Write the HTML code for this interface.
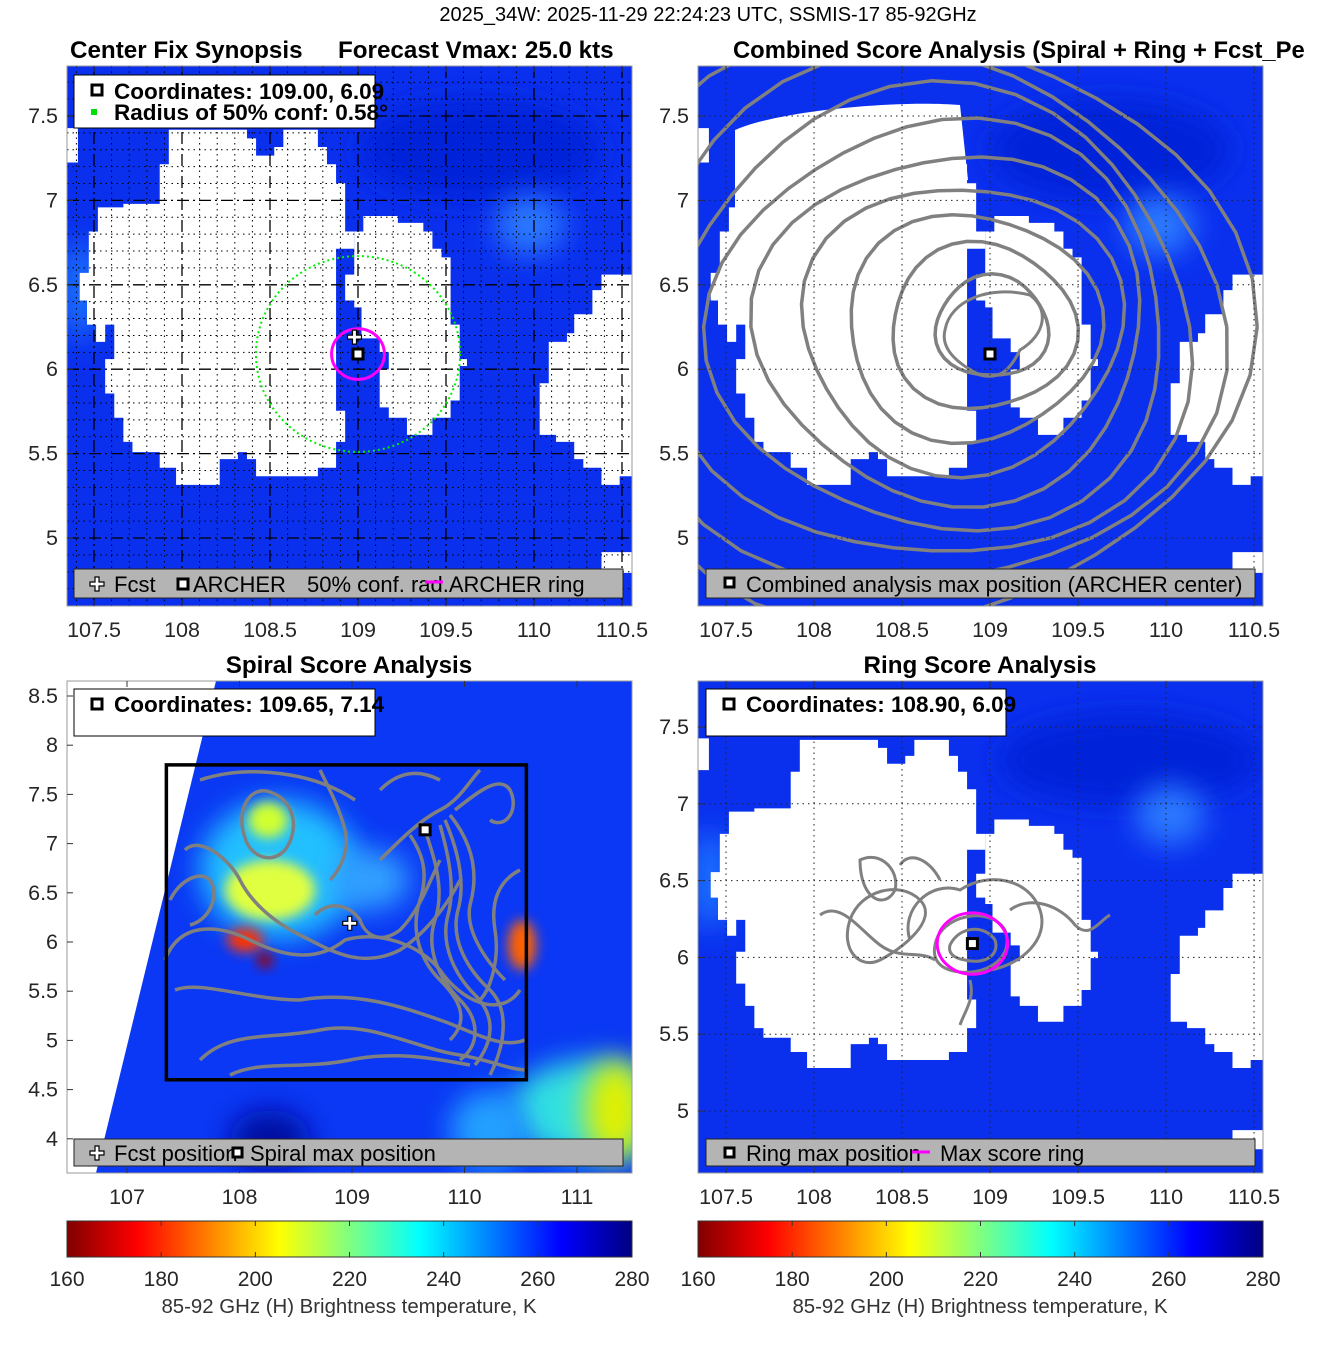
<!DOCTYPE html>
<html><head><meta charset="utf-8"><style>
body{margin:0;background:#fff}
svg text{font-family:"Liberation Sans","DejaVu Sans",sans-serif}
</style></head><body>
<svg id="s" width="1317" height="1350" viewBox="0 0 1317 1350" xmlns="http://www.w3.org/2000/svg">
<defs>
<linearGradient id="jet" x1="0" x2="1" y1="0" y2="0">
<stop offset="0" stop-color="#800000"/><stop offset="0.125" stop-color="#ff0000"/>
<stop offset="0.375" stop-color="#ffff00"/><stop offset="0.5" stop-color="#80ff80"/><stop offset="0.625" stop-color="#00ffff"/>
<stop offset="0.875" stop-color="#0000ff"/><stop offset="1" stop-color="#000080"/>
</linearGradient>
<filter id="bl" x="-50%" y="-50%" width="200%" height="200%"><feGaussianBlur stdDeviation="14"/></filter>
<filter id="bl2" x="-50%" y="-50%" width="200%" height="200%"><feGaussianBlur stdDeviation="6"/></filter>
<clipPath id="c1"><rect x="67" y="66" width="565" height="540"/></clipPath>
<clipPath id="c2"><rect x="698" y="66" width="565" height="540"/></clipPath>
<clipPath id="c3"><rect x="67" y="681" width="565" height="492"/></clipPath>
<clipPath id="c4"><rect x="698" y="681" width="565" height="492"/></clipPath>
<g id="blobs">
<polygon points="280,185 495,185 495,210 520,210 520,260 570,260 570,235 595,235 595,185 690,185 690,235 715,235 715,285 740,285 740,340 765,340 765,480 790,480 790,530 740,530 740,1000 765,1000 765,1090 740,1090 740,1165 690,1165 690,1190 520,1190 520,1140 495,1140 495,1120 470,1120 470,1140 420,1140 420,1215 300,1215 300,1165 255,1165 255,1120 180,1120 180,1090 155,1090 155,1020 130,1020 130,950 105,950 105,850 130,850 130,750 105,750 105,800 80,800 80,750 55,750 55,680 35,680 35,600 60,600 60,480 85,480 85,410 155,410 155,400 255,400 255,285 280,285" fill="#fff"/>
<polygon points="815,435 910,435 910,455 980,455 980,480 1005,480 1005,530 1030,530 1030,555 1055,555 1055,750 1080,750 1080,850 1100,850 1100,870 1080,870 1080,970 1055,970 1055,1020 1005,1020 1005,1070 935,1070 935,1020 885,1020 885,990 860,990 860,880 885,880 885,830 860,830 860,790 810,790 810,700 790,700 790,680 765,680 765,605 790,605 790,480 815,480" fill="#fff"/>
<polygon points="1470,605 1560,605 1560,1190 1520,1190 1520,1215 1470,1215 1470,1165 1420,1165 1420,1140 1395,1140 1395,1090 1345,1090 1345,1070 1300,1070 1300,920 1325,920 1325,800 1375,800 1375,775 1395,775 1395,720 1445,720 1445,650 1470,650" fill="#fff"/>
<polygon points="0,180 30,180 30,280 0,280" fill="#fff"/>
<polygon points="1470,1410 1560,1410 1560,1470 1470,1470" fill="#fff"/>
</g>
</defs>
<text x="708" y="21" font-size="20" text-anchor="middle">2025_34W: 2025-11-29 22:24:23 UTC, SSMIS-17 85-92GHz</text>

<!-- Panel 1 -->
<g clip-path="url(#c1)">
<rect x="67" y="66" width="565" height="540" fill="#0a30ee"/>
<ellipse cx="480" cy="150" rx="120" ry="50" fill="#0522d8" filter="url(#bl)"/>
<ellipse cx="530" cy="225" rx="35" ry="30" fill="#2a78ff" filter="url(#bl)"/>
<ellipse cx="80" cy="290" rx="20" ry="50" fill="#1a70ff" filter="url(#bl)"/>
<use href="#blobs" transform="translate(67,66) scale(0.3636,0.3448)"/>
</g>
<g id="g1grid" clip-path="url(#c1)"></g>
<g id="g1marks" clip-path="url(#c1)"></g>
<rect x="67" y="66" width="565" height="540" fill="none" stroke="#999" stroke-width="1"/>
<text x="70" y="58" font-size="24.2" font-weight="bold">Center Fix Synopsis</text>
<text x="338" y="58" font-size="24.2" font-weight="bold">Forecast Vmax: 25.0 kts</text>
<g>
<rect x="74" y="75" width="301" height="53" fill="#fff" stroke="#000"/>
<rect x="92" y="85" width="10" height="10" fill="#fff" stroke="#000" stroke-width="3"/>
<rect x="91" y="109" width="6" height="6" fill="#00e000"/>
<text x="114" y="99" font-size="22.5" font-weight="bold">Coordinates: 109.00, 6.09</text>
<text x="114" y="120" font-size="22.5" font-weight="bold">Radius of 50% conf: 0.58°</text>
</g>
<g>
<rect x="74" y="569" width="549" height="29" fill="#b4b4b4" stroke="#222"/>
<text x="114" y="592" font-size="22">Fcst</text>
<text x="193" y="592" font-size="22">ARCHER</text>
<text x="307" y="592" font-size="22">50% conf. rad.ARCHER ring</text>
<line x1="425" y1="582" x2="443" y2="582" stroke="#ff00ff" stroke-width="3"/>
</g>

<!-- Panel 2 -->
<g clip-path="url(#c2)">
<rect x="698" y="66" width="565" height="540" fill="#0a30ee"/>
<ellipse cx="1110" cy="150" rx="120" ry="50" fill="#0522d8" filter="url(#bl)"/>
<ellipse cx="1160" cy="225" rx="35" ry="30" fill="#2a78ff" filter="url(#bl)"/>
<use href="#blobs" transform="translate(698,66) scale(0.3636,0.3448)"/>
<path d="M735,130 C780,110 900,100 960,105 L968,180 L900,185 C860,190 800,205 760,220 L735,225Z" fill="#fff"/>
<path d="M945,330 C950,300 990,285 1030,295 C1050,310 1045,335 1020,350 C1010,370 1000,380 980,375 C960,365 940,350 945,330Z" fill="none" stroke="#808080" stroke-width="3"/>
<path id="p2c" fill="none" stroke="#808080" stroke-width="3.5"></path>
</g>
<g id="g2grid" clip-path="url(#c2)"></g>
<g id="g2marks" clip-path="url(#c2)"></g>
<rect x="698" y="66" width="565" height="540" fill="none" stroke="#999"/>
<text x="733" y="58" font-size="23.8" font-weight="bold">Combined Score Analysis (Spiral + Ring + Fcst_Pe</text>
<g>
<rect x="706" y="569" width="549" height="29" fill="#b4b4b4" stroke="#222"/>
<rect x="725" y="578" width="9" height="9" fill="#fff" stroke="#000" stroke-width="3"/>
<text x="746" y="592" font-size="22">Combined analysis max position (ARCHER center)</text>
</g>

<!-- Panel 3 -->
<g clip-path="url(#c3)">
<rect x="67" y="681" width="565" height="492" fill="#0a38f4"/>
<ellipse cx="280" cy="870" rx="80" ry="70" fill="#20c0ff" filter="url(#bl)"/>
<ellipse cx="370" cy="880" rx="40" ry="30" fill="#30a0ff" filter="url(#bl)"/>
<ellipse cx="270" cy="890" rx="45" ry="30" fill="#e0ff40" filter="url(#bl2)"/>
<ellipse cx="268" cy="820" rx="20" ry="18" fill="#d0ff30" filter="url(#bl2)"/>
<ellipse cx="245" cy="940" rx="18" ry="12" fill="#ff3000" filter="url(#bl2)"/>
<ellipse cx="265" cy="960" rx="8" ry="8" fill="#a00000" filter="url(#bl2)"/>
<ellipse cx="522" cy="945" rx="14" ry="25" fill="#ff6000" filter="url(#bl2)"/>
<ellipse cx="590" cy="1110" rx="80" ry="50" fill="#30e0e0" filter="url(#bl)"/>
<ellipse cx="615" cy="1110" rx="30" ry="50" fill="#e0f000" filter="url(#bl)"/>
<ellipse cx="490" cy="1130" rx="40" ry="40" fill="#20a0ff" filter="url(#bl)"/>
<ellipse cx="270" cy="1140" rx="40" ry="30" fill="#0010a0" filter="url(#bl)"/>
<polygon points="67,681 216,681 96,1173 67,1173" fill="#fff"/>
<g fill="none" stroke="#808080" stroke-width="3.5">
<path d="M245,838 C235,810 250,785 270,792 C295,800 300,830 285,850 C270,866 250,855 245,838Z"/>
<path d="M185,850 C200,835 230,860 240,880 C250,900 270,920 300,935 C330,950 360,970 400,950 C430,930 450,900 460,880"/>
<path d="M165,960 C180,920 220,925 250,940 C290,960 320,960 345,940 C380,930 420,945 440,970 C460,1000 500,1020 520,990"/>
<path d="M175,990 C200,980 250,1000 300,1000 C360,990 410,1010 440,1020 C470,1030 500,1050 525,1040"/>
<path d="M200,1060 C230,1030 270,1040 320,1030 C370,1020 420,1050 460,1055 C490,1060 510,1070 527,1070"/>
<path d="M230,1075 C260,1060 300,1070 350,1060 C400,1050 440,1060 470,1065"/>
<path d="M315,915 C330,900 350,905 360,920 C365,935 380,945 400,930 C420,910 430,880 440,860"/>
<path d="M380,860 C400,840 420,820 440,810 C460,800 470,780 480,770"/>
<path d="M410,835 C420,850 430,870 420,900 C410,930 420,960 440,980 C460,1000 470,1020 450,1040"/>
<path d="M425,830 C435,860 445,890 435,920 C425,950 440,980 460,1000 C480,1020 480,1045 460,1060"/>
<path d="M440,825 C450,860 455,890 448,915 C440,945 455,975 475,995 C495,1015 495,1040 475,1065"/>
<path d="M445,820 C460,855 465,885 458,910 C450,940 468,970 490,990 C510,1010 505,1045 490,1075"/>
<path d="M450,815 C470,840 480,870 470,905 C465,930 485,960 505,980"/>
<path d="M455,810 C480,790 500,775 510,790 C520,810 505,830 490,820"/>
<path d="M380,790 C400,770 420,770 440,780"/>
<path d="M200,780 C230,770 260,770 290,775 C320,780 340,790 355,800"/>
<path d="M320,770 C330,790 340,810 345,830 C350,850 340,870 330,880"/>
<path d="M520,870 C500,880 490,900 495,930 C500,960 490,990 480,1000"/>
<path d="M170,900 C180,880 200,870 210,880 C220,895 210,920 190,925"/>
</g>
</g>
<g id="g3marks" clip-path="url(#c3)"></g>
<rect x="67" y="681" width="565" height="492" fill="none" stroke="#999"/>
<text x="349" y="673" font-size="24.2" font-weight="bold" text-anchor="middle">Spiral Score Analysis</text>
<g>
<rect x="74" y="689" width="301" height="47" fill="#fff" stroke="#000"/>
<rect x="92" y="699" width="10" height="10" fill="#fff" stroke="#000" stroke-width="3"/>
<text x="114" y="712" font-size="22.5" font-weight="bold">Coordinates: 109.65, 7.14</text>
</g>
<g>
<rect x="74" y="1139" width="549" height="27" fill="#b4b4b4" stroke="#222"/>
<text x="114" y="1161" font-size="22">Fcst position</text>
<rect x="233" y="1148" width="9" height="9" fill="#fff" stroke="#000" stroke-width="3"/>
<text x="250" y="1161" font-size="22">Spiral max position</text>
</g>

<!-- Panel 4 -->
<g clip-path="url(#c4)">
<rect x="698" y="681" width="565" height="492" fill="#0a30ee"/>
<ellipse cx="1130" cy="760" rx="130" ry="45" fill="#0522d8" filter="url(#bl)"/>
<ellipse cx="1170" cy="815" rx="35" ry="30" fill="#2a78ff" filter="url(#bl)"/>
<ellipse cx="710" cy="880" rx="20" ry="50" fill="#1a70ff" filter="url(#bl)"/>
<use href="#blobs" transform="translate(698,681) scale(0.3636,0.3185)"/>
<g fill="none" stroke="#808080" stroke-width="3">
<path d="M950,945 C960,925 985,925 995,940 C1000,955 985,965 965,960 C952,958 948,952 950,945Z"/>
<path d="M935,945 C940,915 990,905 1005,930 C1015,955 990,975 960,972 C940,970 932,960 935,945Z"/>
<path d="M910,940 C900,910 930,880 960,890 C990,870 1030,880 1040,910 C1050,940 1020,965 990,970"/>
<path d="M850,920 C860,890 900,880 920,900 C940,920 900,950 880,960 C860,970 840,950 850,920Z"/>
<path d="M820,915 C840,900 860,930 880,945 C900,960 920,950 935,960"/>
<path d="M860,860 C880,850 900,870 895,890 C885,910 860,900 860,860Z"/>
<path d="M1010,910 C1030,895 1060,905 1075,925 C1090,940 1100,920 1110,915"/>
<path d="M970,980 C975,1000 965,1010 960,1025"/>
<path d="M900,865 C910,850 930,860 940,880"/>
</g>
</g>
<g id="g4grid" clip-path="url(#c4)"></g>
<g id="g4marks" clip-path="url(#c4)"></g>
<rect x="698" y="681" width="565" height="492" fill="none" stroke="#999"/>
<text x="980" y="673" font-size="24.2" font-weight="bold" text-anchor="middle">Ring Score Analysis</text>
<g>
<rect x="706" y="689" width="300" height="47" fill="#fff" stroke="#000"/>
<rect x="724" y="699" width="10" height="10" fill="#fff" stroke="#000" stroke-width="3"/>
<text x="746" y="712" font-size="22.5" font-weight="bold">Coordinates: 108.90, 6.09</text>
</g>
<g>
<rect x="706" y="1139" width="549" height="27" fill="#b4b4b4" stroke="#222"/>
<rect x="725" y="1148" width="9" height="9" fill="#fff" stroke="#000" stroke-width="3"/>
<text x="746" y="1161" font-size="22">Ring max position</text>
<line x1="912" y1="1152" x2="930" y2="1152" stroke="#ff00ff" stroke-width="3"/>
<text x="940" y="1161" font-size="22">Max score ring</text>
</g>

<!-- Colorbars -->
<rect x="67" y="1221" width="565" height="36" fill="url(#jet)" stroke="#333"/>
<rect x="698" y="1221" width="565" height="36" fill="url(#jet)" stroke="#333"/>
<text x="349" y="1313" font-size="20.4" text-anchor="middle" fill="#333">85-92 GHz (H) Brightness temperature, K</text>
<text x="980" y="1313" font-size="20.4" text-anchor="middle" fill="#333">85-92 GHz (H) Brightness temperature, K</text>
<g id="axes"></g>
</svg>
<script>
const NS='http://www.w3.org/2000/svg';
// ---- data ----
const xTicksA=[107.5,108,108.5,109,109.5,110,110.5];
const yTicksA=[5,5.5,6,6.5,7,7.5];
const xTicks3=[107,108,109,110,111];
const yTicks3=[4,4.5,5,5.5,6,6.5,7,7.5,8,8.5];
const yTicks4=[5,5.5,6,6.5,7,7.5];
const cbTicks=[160,180,200,220,240,260,280];
const archerCenter=[109.00,6.09];
const fcstPos=[108.98,6.19];
const confRadius=[0.58];
const archerRing=[0.15];
const spiralMax=[109.65,7.14];
const spiralBox=[107.35,110.55,4.6,7.8];
const ringMax=[108.90,6.09];
const ringRadius=[0.2];
const contourLevels=[0.5,0.82,1.12,1.42,1.72,2.02,2.32,2.62,2.92];
// ---- axes ----
const X1=v=>94+(v-107.5)*176, Y1=v=>116+(7.5-v)*168.8;
const X2=v=>726+(v-107.5)*176, Y2=Y1;
const X3=v=>127+(v-107)*112.5, Y3=v=>696+(8.5-v)*98.4;
const X4=v=>726+(v-107.5)*176, Y4=v=>727+(7.5-v)*153.6;
const XC1=v=>67+(v-160)/120*565, XC2=v=>698+(v-160)/120*565;
function el(t,a,p){const e=document.createElementNS(NS,t);for(const k in a)e.setAttribute(k,a[k]);p.appendChild(e);return e;}
const axes=document.getElementById('axes');
function xt(ticks,X,ybot,ytop,lab){ticks.forEach(v=>{
 el('line',{x1:X(v),x2:X(v),y1:ybot,y2:ybot-6,stroke:'#333'},axes);
 el('line',{x1:X(v),x2:X(v),y1:ytop,y2:ytop+6,stroke:'#333'},axes);
 const t=el('text',{x:X(v),y:lab,'font-size':21.5,'text-anchor':'middle',fill:'#262626'},axes);
 
 
 t.textContent=String(v);});}
function yt(ticks,Y,xl,xr){ticks.forEach(v=>{
 el('line',{x1:xl,x2:xl+6,y1:Y(v),y2:Y(v),stroke:'#333'},axes);
 const t=el('text',{x:xl-9,y:Y(v)+7,'font-size':21.5,'text-anchor':'end',fill:'#262626'},axes);
 
 
 t.textContent=String(v);});}
xt(xTicksA,X1,606,66,637);yt(yTicksA,Y1,67);
xt(xTicksA,X2,606,66,637);yt(yTicksA,Y2,698);
xt(xTicks3,X3,1173,681,1204);yt(yTicks3,Y3,67);
xt(xTicksA,X4,1173,681,1204);yt(yTicks4,Y4,698);
[[XC1],[XC2]].forEach(([X])=>cbTicks.forEach(v=>{
 el('line',{x1:X(v),x2:X(v),y1:1221,y2:1226,stroke:'#333'},axes);
 el('line',{x1:X(v),x2:X(v),y1:1257,y2:1252,stroke:'#333'},axes);
 const t=el('text',{x:X(v),y:1286,'font-size':21,'text-anchor':'middle',fill:'#262626'},axes);
 
 
 t.textContent=String(v);}));
// grids
const g1=document.getElementById('g1grid');
for(let v=107.3;v<=110.65;v+=0.1){const px=X1(+v.toFixed(1));const maj=Math.abs(v*2-Math.round(v*2))<1e-6;
 el('line',{x1:px,x2:px,y1:66,y2:606,stroke:'#000','stroke-width':maj?1.3:1,'stroke-dasharray':maj?'12 4 2 4':'1.5 4'},g1);}
for(let v=4.7;v<=7.8;v+=0.1){const py=Y1(+v.toFixed(1));const maj=Math.abs(v*2-Math.round(v*2))<1e-6;
 el('line',{x1:67,x2:632,y1:py,y2:py,stroke:'#000','stroke-width':maj?1.3:1,'stroke-dasharray':maj?'12 4 2 4':'1.5 4'},g1);}
function dotgrid(g,xs,ys,X,Y,x0,x1,y0,y1){xs.forEach(v=>el('line',{x1:X(v),x2:X(v),y1:y0,y2:y1,stroke:'#222','stroke-dasharray':'1.5 4'},g));
 ys.forEach(v=>el('line',{x1:x0,x2:x1,y1:Y(v),y2:Y(v),stroke:'#222','stroke-dasharray':'1.5 4'},g));}
dotgrid(document.getElementById('g2grid'),xTicksA,yTicksA,X2,Y2,698,1263,66,606);
dotgrid(document.getElementById('g4grid'),xTicksA,yTicks4,X4,Y4,698,1263,681,1173);
// combined contours
let d='';
contourLevels.forEach((r,i)=>{const cx=X2(108.5)+ (contourLevels.length-i)*10,cy=Y2(6.25);const rx=r*176*0.64,ry=r*168.8*0.6;
 const n=40;for(let k=0;k<=n;k++){const a=k/n*2*Math.PI;const w=1+0.05*Math.sin(3*a+i);
 const px=cx+rx*w*Math.cos(a),py=cy+ry*w*Math.sin(a);d+=(k?'L':'M')+px.toFixed(1)+','+py.toFixed(1);} });
document.getElementById('p2c').setAttribute('d',d);
// markers
function sq(g,x,y,name){const r=el('rect',{x:x-5,y:y-5,width:10,height:10,fill:'#fff',stroke:'#000','stroke-width':3},g);
 
 }
function cross(g,x,y,name){const p=el('path',{d:`M${x-2},${y-7}h4v5h5v4h-5v5h-4v-5h-5v-4h5z`,fill:'#fff',stroke:'#000','stroke-width':1.2},g);
 
 }
const m1=document.getElementById('g1marks');
const conf=el('ellipse',{cx:X1(archerCenter[0]),cy:Y1(archerCenter[1]),rx:confRadius[0]*176,ry:confRadius[0]*168.8,fill:'none',stroke:'#00ee00','stroke-width':2,'stroke-dasharray':'2 3'},m1);


const ring=el('ellipse',{cx:X1(archerCenter[0]),cy:Y1(archerCenter[1]),rx:archerRing[0]*176,ry:archerRing[0]*168.8,fill:'none',stroke:'#ff00ff','stroke-width':3},m1);


cross(m1,X1(fcstPos[0]),Y1(fcstPos[1]),'forecast-marker');
sq(m1,X1(archerCenter[0]),Y1(archerCenter[1]),'archer-center-marker');
sq(document.getElementById('g2marks'),X2(archerCenter[0]),Y2(archerCenter[1]),'combined-max-marker');
const m3=document.getElementById('g3marks');
const box=el('rect',{x:X3(spiralBox[0]),y:Y3(spiralBox[3]),width:X3(spiralBox[1])-X3(spiralBox[0]),height:Y3(spiralBox[2])-Y3(spiralBox[3]),fill:'none',stroke:'#000','stroke-width':3.5},m3);


cross(m3,X3(fcstPos[0]),Y3(fcstPos[1]),'forecast-marker');
sq(m3,X3(spiralMax[0]),Y3(spiralMax[1]),'spiral-max-marker');
const m4=document.getElementById('g4marks');
const r4=el('ellipse',{cx:X4(ringMax[0]),cy:Y4(ringMax[1]),rx:ringRadius[0]*176,ry:ringRadius[0]*153.6,fill:'none',stroke:'#ff00ff','stroke-width':3},m4);


sq(m4,X4(ringMax[0]),Y4(ringMax[1]),'ring-max-marker');
// legend icons
const lg=document.getElementById('axes');
cross(lg,97,584,'legend-fcst-icon');
sq(lg,183,584,'legend-archer-icon');
cross(lg,97,1153,'legend-fcst-icon');
</script>
</body></html>
